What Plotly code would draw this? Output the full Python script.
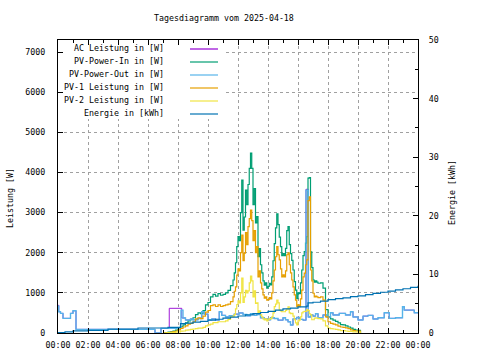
import plotly.graph_objects as go

DAY = "2025-04-18 "
NEXT = "2025-04-19 "

# ---------------- data ----------------
title_text = "Tagesdiagramm vom 2025-04-18"
series_names = ["AC Leistung in [W]", "PV-Power-In in [W]", "PV-Power-Out in [W]",
                "PV-1 Leistung in [W]", "PV-2 Leistung in [W]", "Energie in [kWh]"]
series_colors = ["#9400d3", "#009e73", "#56b4e9", "#e69f00", "#f0e442", "#0072b2"]

day_times = ["07:00", "07:10", "07:20", "07:30", "07:40", "07:50", "08:00", "08:10", "08:20", "08:30",
             "08:40", "08:50", "09:00", "09:10", "09:20", "09:30", "09:40", "09:50", "10:00", "10:10",
             "10:20", "10:30", "10:40", "10:50", "11:00", "11:10", "11:20", "11:30",
             "11:40", "11:45", "11:50", "11:55",
             "12:00", "12:05", "12:10", "12:15", "12:20", "12:25", "12:30", "12:35", "12:40", "12:45", "12:50", "12:55",
             "13:00", "13:05", "13:10", "13:15", "13:20", "13:25", "13:30", "13:35", "13:40", "13:45", "13:50", "13:55",
             "14:00", "14:05", "14:10", "14:15", "14:20", "14:25", "14:30", "14:35", "14:40", "14:45", "14:50", "14:55",
             "15:00", "15:05", "15:10", "15:15", "15:20", "15:25", "15:30", "15:35", "15:40", "15:45", "15:50", "15:55",
             "16:00", "16:05", "16:10", "16:15", "16:20", "16:25", "16:30", "16:35", "16:40", "16:45", "16:50", "16:55",
             "17:00", "17:05", "17:10", "17:15", "17:20",
             "17:30", "17:40", "17:50", "18:00", "18:10", "18:20", "18:30", "18:40", "18:50", "19:00",
             "19:10", "19:20", "19:30", "19:40", "19:50", "20:00", "20:10"]

pv_in = [0, 10, 20, 30, 50, 70, 110, 160, 200, 250,
         300, 330, 380, 460, 500, 480, 560, 700, 760, 900,
         960, 920, 980, 940, 960, 1000, 1060, 1180,
         1320, 1500, 1750, 2150,
         2400, 2300, 3000, 3810, 2560, 2890, 3560, 3200, 3700, 4100, 4480, 4100,
         3200, 3600, 2740, 2900, 1900, 2100, 1700, 1500, 1300, 1195, 1250, 1120,
         1160, 1240, 1200, 1400, 1800, 2225, 2620, 2970, 2700, 2390, 2150, 1930,
         1980, 1930, 2110, 2550, 2650, 2200, 1980, 1810, 1570, 1280, 1070, 855,
         1000, 980, 1250, 1570, 1930, 2030, 2240, 2400, 3860, 3870, 2020, 1630,
         1320, 1270, 1300, 1270, 1240,
         1250, 1120, 580, 400, 350, 320, 290, 250, 210, 200,
         180, 150, 120, 90, 75, 65, 0]

pv1 = [0, 5, 10, 20, 35, 50, 80, 115, 150, 180,
       220, 240, 280, 350, 380, 360, 420, 520, 560, 680,
       700, 660, 700, 660, 680, 700, 720, 780,
       900, 1040, 1150, 1440,
       1600, 1550, 2000, 2440, 1800, 1990, 2500, 2200, 2650, 2850, 3060, 2800,
       2300, 2550, 2000, 2150, 1400, 1550, 1250, 1100, 950, 870, 900, 820,
       830, 880, 850, 1000, 1300, 1570, 1900, 2150, 1950, 1820, 1600, 1400,
       1450, 1400, 1550, 1950, 2000, 1700, 1500, 1320, 1150, 950, 820, 655,
       700, 655, 850, 1070, 1400, 1490, 1700, 1820, 3300, 3390, 1570, 1300,
       990, 900, 920, 900, 880,
       900, 820, 400, 280, 240, 220, 200, 170, 150, 140,
       130, 110, 80, 60, 50, 45, 0]

pv2 = [0, 5, 10, 10, 15, 20, 30, 45, 50, 70,
       80, 90, 100, 110, 120, 120, 140, 180, 200, 220,
       260, 260, 280, 280, 280, 300, 340, 400,
       420, 460, 600, 710,
       800, 750, 1000, 1370, 760, 900, 1060, 1000, 1050, 1250, 1420, 1300,
       900, 1050, 740, 750, 500, 550, 450, 400, 350, 325, 350, 300,
       330, 360, 350, 400, 500, 655, 720, 820, 750, 570, 550, 530,
       530, 530, 560, 600, 650, 500, 480, 490, 420, 330, 250, 200,
       300, 325, 400, 500, 530, 540, 540, 580, 560, 480, 450, 330,
       330, 370, 380, 370, 360,
       350, 300, 180, 120, 110, 100, 90, 80, 60, 60,
       50, 40, 40, 30, 25, 20, 0]

out_times = ["00:00", "00:03", "00:10", "00:20", "00:50", "01:00", "01:12", "06:28", "06:52", "08:12",
             "08:20", "08:30", "08:50", "09:00", "09:20", "09:35", "09:45", "10:00", "10:15", "10:30",
             "10:45", "10:55", "11:10", "11:25", "11:45", "12:05", "12:20", "12:35", "12:50", "13:05",
             "13:15", "13:30", "13:45", "14:00", "14:10", "14:25", "14:40", "15:00", "15:10", "15:20",
             "15:30", "15:40", "15:55", "16:05", "16:20", "16:32", "16:41", "16:50", "17:00", "17:10",
             "17:20", "17:40", "17:55", "18:10", "18:20", "18:45", "19:10", "19:30", "19:40", "20:00",
             "20:20", "20:40", "21:00", "21:20", "21:45", "22:05", "22:30", "22:58", "23:05", "23:45", "24:00"]
pv_out = [670, 530, 490, 365, 490, 555, 90, 0, 115, 570,
          375, 325, 350, 330, 360, 530, 470, 330, 350, 320,
          530, 440, 400, 430, 470, 500, 460, 430, 480, 440,
          460, 380, 350, 330, 380, 360, 320, 380, 330, 280,
          200, 350, 390, 340, 320, 3560, 400, 450, 420, 480,
          380, 450, 400, 505, 450, 490, 450, 530, 400, 325,
          420, 440, 350, 380, 505, 365, 380, 655, 570, 505, 505]

ac_times = ["00:00", "00:03", "00:10", "00:20", "00:50", "01:00", "01:12", "06:28", "06:52", "07:25",
            "08:15", "08:30", "08:50", "09:00", "09:20", "09:35", "09:45", "10:00", "10:15", "10:30",
            "10:45", "10:55", "11:10", "11:25", "11:45", "12:05", "12:20", "12:35", "12:50", "13:05",
            "13:15", "13:30", "13:45", "14:00", "14:10", "14:25", "14:40", "15:00", "15:10", "15:20",
            "15:30", "15:40", "15:55", "16:05", "16:20", "16:32", "16:41", "16:50", "17:00", "17:10",
            "17:20", "17:40", "17:55", "18:10", "18:20", "18:45", "19:10", "19:30", "19:40", "20:00",
            "20:20", "20:40", "21:00", "21:20", "21:45", "22:05", "22:30", "22:58", "23:05", "23:45", "24:00"]
ac_power = [690, 530, 490, 365, 490, 555, 90, 0, 115, 615,
            375, 325, 350, 330, 360, 530, 470, 330, 350, 320,
            530, 440, 400, 430, 470, 500, 460, 430, 480, 440,
            460, 380, 350, 330, 380, 360, 320, 380, 330, 280,
            200, 350, 390, 340, 320, 3580, 400, 450, 420, 480,
            380, 450, 400, 505, 450, 490, 450, 530, 400, 325,
            420, 440, 350, 380, 505, 365, 380, 655, 570, 505, 505]

energy_times = ["00:00", "00:28", "01:00", "02:00", "03:20", "05:20", "07:20", "08:10", "08:30", "09:00",
                "09:30", "10:00", "10:30", "11:00", "11:30", "12:00", "12:30", "13:00", "13:30", "14:00",
                "14:30", "15:00", "15:30", "16:00", "16:35", "16:40", "17:00", "17:30", "18:00", "18:30",
                "19:00", "19:30", "20:00", "20:30", "21:00", "21:30", "22:00", "22:30", "23:00", "23:30", "24:00"]
energy_kwh = [0.05, 0.2, 0.35, 0.45, 0.65, 0.85, 0.95, 1.6, 1.7, 1.85,
              2.0, 2.2, 2.35, 2.55, 2.7, 2.9, 3.1, 3.3, 3.5, 3.7,
              3.9, 4.1, 4.25, 4.45, 4.6, 5.15, 5.25, 5.45, 5.7, 5.85,
              6.0, 6.2, 6.35, 6.55, 6.75, 6.95, 7.15, 7.35, 7.55, 7.8, 8.05]

assert len(day_times) == len(pv_in) == len(pv1) == len(pv2)
assert len(out_times) == len(pv_out)
assert len(ac_times) == len(ac_power)
assert len(energy_times) == len(energy_kwh)


def ts(t):
    return NEXT + "00:00" if t == "24:00" else DAY + t


FONT = "DejaVu Sans Mono"
FS = 8.3

fig = go.Figure()
plot_series = [
    (ac_times, ac_power, "y", 0.9),
    (day_times, pv_in, "y", 1.2),
    (out_times, pv_out, "y", 1.4),
    (day_times, pv1, "y", 1.2),
    (day_times, pv2, "y", 1.2),
    (energy_times, energy_kwh, "y2", 1.2),
]
for (tt, vv, ax, lw), name, col in zip(plot_series, series_names, series_colors):
    fig.add_trace(go.Scatter(x=[ts(t) for t in tt], y=vv, name=name, mode="lines",
                             line=dict(color=col, width=lw, shape="hv"), yaxis=ax))

# plot area in pixels: x 58..418, y 40..333
L, R, T, B = 58, 418, 40, 333
W, H = R - L, B - T


def px(x):
    return (x - L) / W


def py(y):
    return (B - y) / H


grid = dict(showgrid=True, gridcolor="#a0a0a0", griddash="dot", gridwidth=1)
fig.update_layout(
    width=480, height=360,
    margin=dict(l=L, r=480 - R, t=T, b=360 - B, pad=0, autoexpand=False),
    paper_bgcolor="white", plot_bgcolor="white",
    showlegend=False,
    font=dict(family=FONT, size=FS, color="black"),
    xaxis=dict(type="date", range=[DAY + "00:00", NEXT + "00:00"], dtick=2 * 3600 * 1000,
               tickformat="%H:%M", ticks="inside", ticklen=5, tickcolor="black",
               showline=True, linecolor="black", linewidth=1, mirror="ticks",
               minor=dict(dtick=3600 * 1000, ticks="inside", ticklen=3, tickcolor="black", showgrid=False),
               ticklabelstandoff=4, zeroline=False, automargin=False, **grid),
    yaxis=dict(range=[0, 7300], dtick=1000, ticks="inside", ticklen=5, tickcolor="black",
               showline=True, linecolor="black", linewidth=1, zeroline=False,
               ticklabelstandoff=10, automargin=False, **grid),
    yaxis2=dict(overlaying="y", side="right", range=[0, 50], dtick=10, ticks="inside", ticklen=5,
                tickcolor="black", showline=True, linecolor="black", linewidth=1,
                minor=dict(dtick=5, ticks="inside", ticklen=3, tickcolor="black", showgrid=False),
                showgrid=False, zeroline=False, ticklabelstandoff=8, automargin=False),
)

# opaque key box (leaves the border ticks visible)
fig.add_shape(type="rect", xref="paper", yref="paper", x0=px(64), x1=px(224), y0=py(119), y1=py(46),
              fillcolor="white", line=dict(width=0), layer="above")

annots = [
    dict(text=title_text, x=px(224), y=py(18)),
    dict(text="Leistung [W]", x=px(10), y=py(198), textangle=-90),
    dict(text="Energie [kWh]", x=px(452), y=py(193), textangle=-90),
]
for a in annots:
    fig.add_annotation(xref="paper", yref="paper", showarrow=False, xanchor="center", yanchor="middle",
                       font=dict(family=FONT, size=FS, color="black"), **a)

for i, (name, col) in enumerate(zip(series_names, series_colors)):
    yl = 49 + 13 * i
    fig.add_annotation(xref="paper", yref="paper", showarrow=False, xanchor="right", yanchor="middle",
                       x=px(166), y=py(yl - 1.5), text=name, font=dict(family=FONT, size=FS, color="black"))
    fig.add_shape(type="line", xref="paper", yref="paper", x0=px(190), x1=px(218), y0=py(yl), y1=py(yl),
                  line=dict(color=col, width=1.2), layer="above")

fig.write_html("out.html", config={"displayModeBar": False},
               post_script="document.body.style.margin='0';document.body.style.padding='0';")
